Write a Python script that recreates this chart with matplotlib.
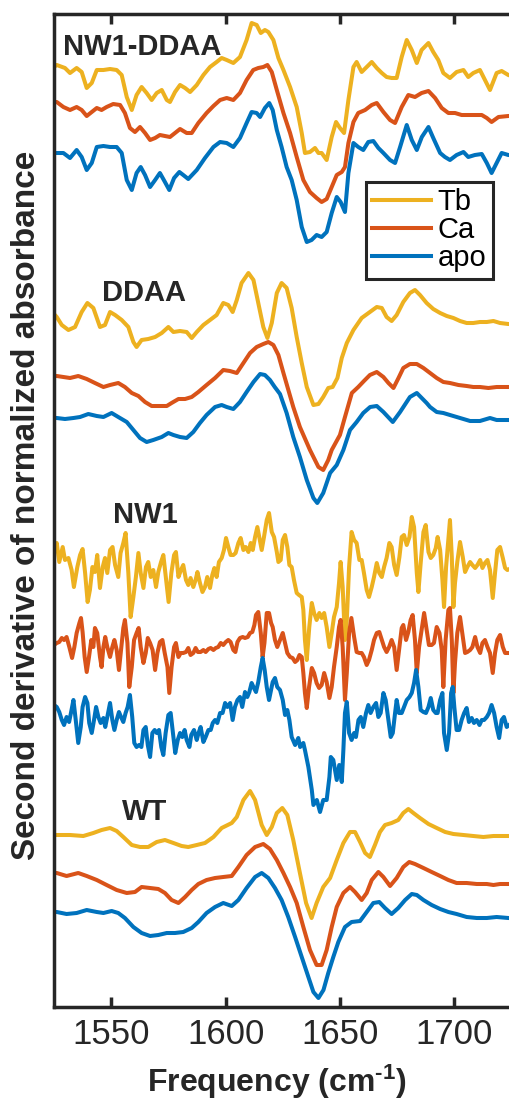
import numpy as np
import matplotlib
matplotlib.use("Agg")
import matplotlib.pyplot as plt
from matplotlib import font_manager

# second-derivative spectra, (frequency cm-1, value in arbitrary offset units)
nw1ddaa_tb = [(1525.0, 94.0), (1526.2, 94.2), (1529.8, 93.9), (1532.0, 93.4), (1534.9, 93.9), (1537.1, 93.5), (1539.3, 91.9), (1541.5, 92.4), (1543.7, 93.7), (1546.6, 93.7), (1549.5, 93.8), (1552.4, 93.7), (1554.6, 93.2), (1556.8, 91.0), (1559.0, 89.7), (1561.1, 91.2), (1563.3, 92.0), (1565.5, 91.4), (1567.7, 90.7), (1569.9, 91.4), (1572.1, 91.7), (1574.3, 90.7), (1575.7, 90.5), (1577.9, 91.5), (1580.1, 92.2), (1582.3, 91.9), (1584.5, 91.5), (1587.4, 92.2), (1590.3, 93.2), (1593.2, 94.0), (1596.1, 94.5), (1598.3, 94.9), (1600.5, 94.7), (1603.4, 94.4), (1606.3, 95.0), (1609.2, 96.7), (1611.4, 98.4), (1613.6, 98.2), (1615.4, 97.4), (1617.2, 97.7), (1618.7, 97.5), (1620.9, 96.7), (1623.1, 94.9), (1625.3, 93.7), (1628.2, 92.0), (1631.1, 90.0), (1633.3, 87.4), (1634.7, 85.4), (1636.9, 85.5), (1639.1, 85.9), (1640.6, 85.4), (1642.0, 85.4), (1644.2, 84.7), (1646.4, 87.0), (1648.3, 88.5), (1650.0, 87.9), (1651.8, 87.4), (1653.7, 90.7), (1655.9, 94.0), (1657.3, 94.5), (1659.5, 93.5), (1661.7, 94.0), (1663.9, 94.5), (1666.1, 93.9), (1668.3, 93.4), (1670.4, 93.0), (1672.6, 92.9), (1674.8, 92.9), (1677.0, 95.0), (1679.2, 96.7), (1681.4, 95.7), (1683.6, 94.4), (1685.7, 95.7), (1688.7, 96.4), (1690.8, 95.5), (1693.0, 94.7), (1695.2, 93.4), (1698.1, 92.9), (1701.0, 93.5), (1704.0, 93.7), (1706.1, 93.0), (1708.3, 93.4), (1711.2, 93.7), (1713.4, 92.7), (1715.6, 91.7), (1718.5, 93.4), (1720.7, 93.6), (1723.6, 93.2), (1725.0, 93.1)]
nw1ddaa_ca = [(1525.0, 90.5), (1526.2, 90.5), (1529.1, 90.0), (1532.0, 89.7), (1534.9, 90.0), (1537.1, 89.7), (1539.3, 89.1), (1541.5, 89.5), (1543.7, 89.9), (1545.8, 89.7), (1548.0, 90.0), (1550.9, 90.3), (1553.9, 90.2), (1556.0, 89.4), (1558.2, 87.9), (1560.4, 87.5), (1562.6, 88.0), (1564.8, 87.4), (1567.0, 86.7), (1569.2, 86.9), (1571.3, 87.2), (1573.5, 87.1), (1575.7, 87.0), (1577.9, 87.4), (1580.1, 87.8), (1583.0, 87.4), (1585.2, 87.4), (1588.1, 88.4), (1591.7, 89.4), (1594.7, 90.1), (1597.6, 90.7), (1600.5, 90.9), (1603.4, 90.7), (1606.3, 91.4), (1609.2, 92.7), (1612.1, 93.7), (1614.3, 93.9), (1616.5, 94.0), (1618.3, 94.2), (1620.2, 93.5), (1622.4, 91.7), (1625.3, 89.4), (1628.2, 87.4), (1631.1, 85.0), (1634.0, 82.7), (1636.9, 81.5), (1639.8, 80.9), (1642.0, 80.5), (1644.2, 80.8), (1646.4, 82.0), (1648.6, 83.2), (1650.8, 83.5), (1652.2, 84.0), (1653.7, 86.4), (1655.9, 88.5), (1658.0, 89.4), (1661.0, 89.7), (1663.9, 90.2), (1666.1, 90.4), (1669.0, 89.5), (1671.9, 88.7), (1674.1, 88.4), (1677.0, 90.0), (1679.9, 91.2), (1682.8, 91.0), (1685.7, 91.4), (1688.7, 91.6), (1691.6, 90.9), (1694.5, 89.9), (1697.4, 89.4), (1700.3, 89.4), (1703.2, 89.2), (1706.1, 89.2), (1709.0, 89.2), (1712.0, 89.2), (1714.2, 88.9), (1716.3, 88.5), (1719.3, 89.0), (1723.6, 89.1), (1725.0, 89.1)]
nw1ddaa_apo = [(1525.0, 85.4), (1526.2, 85.4), (1529.1, 85.4), (1532.0, 84.9), (1534.9, 85.7), (1537.1, 85.0), (1539.3, 83.7), (1541.5, 84.4), (1543.7, 86.0), (1546.6, 86.1), (1549.5, 86.0), (1552.4, 86.0), (1554.6, 85.4), (1556.8, 82.7), (1559.0, 81.7), (1561.1, 83.4), (1562.9, 84.0), (1564.8, 83.2), (1567.0, 82.0), (1569.2, 82.7), (1571.3, 83.4), (1573.5, 82.5), (1575.4, 81.7), (1577.5, 82.9), (1579.8, 83.5), (1581.5, 83.2), (1583.7, 82.8), (1587.4, 83.7), (1591.0, 84.9), (1594.7, 86.0), (1597.6, 86.5), (1600.5, 86.4), (1603.4, 86.0), (1606.3, 86.9), (1609.2, 88.4), (1611.4, 89.5), (1613.6, 89.4), (1615.1, 89.0), (1617.2, 89.9), (1619.1, 90.4), (1620.6, 89.7), (1622.4, 87.7), (1624.5, 86.0), (1626.7, 84.0), (1628.9, 82.7), (1631.1, 80.7), (1633.3, 78.0), (1635.5, 76.5), (1637.6, 76.7), (1639.8, 77.2), (1642.0, 77.0), (1644.2, 77.5), (1646.4, 79.4), (1648.6, 81.0), (1650.3, 80.5), (1652.2, 79.5), (1653.7, 83.4), (1655.9, 86.4), (1658.0, 86.0), (1660.2, 85.7), (1662.4, 86.5), (1664.6, 86.6), (1666.8, 85.9), (1669.0, 85.4), (1671.9, 84.7), (1674.1, 84.4), (1676.3, 86.0), (1679.2, 88.2), (1681.4, 86.7), (1683.6, 85.7), (1685.8, 87.0), (1688.7, 88.0), (1690.8, 86.9), (1693.8, 85.4), (1695.9, 85.0), (1698.1, 84.7), (1701.0, 85.2), (1704.0, 85.5), (1706.1, 85.0), (1709.0, 85.2), (1712.0, 85.3), (1714.2, 84.4), (1716.3, 83.4), (1718.5, 84.4), (1720.7, 85.4), (1723.6, 85.2), (1725.0, 85.2)]

ddaa_tb = [(1525.0, 69.3), (1526.2, 69.0), (1528.4, 68.2), (1531.3, 67.7), (1534.2, 68.0), (1537.1, 69.5), (1539.6, 70.4), (1542.2, 69.9), (1545.1, 68.0), (1547.3, 68.2), (1549.5, 69.5), (1551.7, 69.2), (1554.6, 68.7), (1557.5, 68.0), (1559.7, 66.5), (1561.1, 66.0), (1563.3, 66.7), (1566.2, 66.8), (1569.2, 67.0), (1572.1, 67.4), (1575.0, 68.0), (1577.2, 67.5), (1580.1, 67.6), (1583.0, 67.5), (1585.2, 66.9), (1587.4, 67.5), (1590.3, 68.2), (1593.2, 68.7), (1596.1, 69.2), (1599.0, 70.4), (1601.2, 70.2), (1603.1, 69.5), (1604.9, 70.7), (1607.0, 72.4), (1610.0, 73.4), (1612.2, 72.7), (1614.3, 70.4), (1616.5, 68.0), (1618.3, 66.9), (1620.2, 68.4), (1622.4, 71.4), (1624.5, 72.4), (1626.7, 71.9), (1628.9, 69.9), (1631.1, 67.0), (1633.3, 64.4), (1635.5, 62.0), (1638.4, 60.2), (1640.6, 60.3), (1642.7, 61.0), (1644.9, 61.9), (1646.8, 62.0), (1648.9, 62.9), (1650.8, 64.9), (1653.0, 66.4), (1655.9, 67.7), (1659.5, 68.9), (1663.1, 69.5), (1666.1, 70.0), (1668.3, 69.9), (1670.4, 69.0), (1672.6, 68.6), (1674.8, 69.2), (1677.7, 70.5), (1680.6, 71.4), (1682.8, 71.7), (1685.0, 71.2), (1687.9, 70.4), (1690.8, 69.8), (1693.8, 69.4), (1696.7, 69.1), (1699.6, 68.9), (1702.5, 68.6), (1705.4, 68.4), (1708.3, 68.4), (1711.2, 68.5), (1714.2, 68.5), (1717.1, 68.6), (1720.0, 68.4), (1723.6, 68.3), (1725.0, 68.3)]
ddaa_ca = [(1525.0, 63.1), (1526.2, 63.1), (1529.1, 63.0), (1532.0, 62.9), (1535.6, 63.1), (1539.3, 62.8), (1542.9, 62.4), (1546.6, 62.0), (1549.5, 62.2), (1553.1, 62.4), (1556.0, 62.0), (1559.0, 61.4), (1561.9, 61.1), (1564.8, 60.5), (1567.7, 60.1), (1570.6, 60.1), (1574.3, 60.1), (1576.4, 60.4), (1579.4, 60.8), (1582.3, 60.8), (1585.2, 61.0), (1588.1, 61.5), (1591.7, 62.2), (1595.4, 62.9), (1599.0, 63.7), (1601.9, 63.6), (1604.9, 63.4), (1607.8, 64.4), (1610.7, 65.4), (1613.6, 66.0), (1616.5, 66.3), (1618.7, 66.5), (1620.9, 66.2), (1623.1, 65.2), (1625.3, 63.4), (1629.6, 60.0), (1632.5, 58.0), (1636.9, 55.7), (1640.6, 54.0), (1642.7, 53.7), (1644.9, 54.7), (1646.4, 55.7), (1650.0, 57.2), (1652.2, 59.0), (1655.2, 61.4), (1658.0, 62.0), (1660.5, 62.6), (1663.1, 63.2), (1666.1, 63.5), (1669.0, 63.0), (1671.2, 62.4), (1673.4, 61.9), (1675.6, 62.9), (1677.7, 63.9), (1680.6, 64.3), (1683.6, 64.3), (1686.5, 63.9), (1689.4, 63.4), (1692.3, 62.9), (1695.2, 62.5), (1698.1, 62.4), (1701.8, 62.2), (1705.4, 62.1), (1708.3, 62.0), (1711.2, 62.0), (1714.9, 61.9), (1718.5, 62.0), (1723.6, 62.0), (1725.0, 62.0)]
ddaa_apo = [(1525.0, 58.9), (1526.2, 58.9), (1529.8, 58.8), (1533.5, 58.9), (1536.4, 59.0), (1540.0, 59.3), (1543.7, 59.1), (1546.6, 59.0), (1550.2, 59.4), (1553.1, 59.0), (1556.8, 58.5), (1559.7, 57.7), (1562.6, 56.9), (1565.5, 56.5), (1568.4, 56.7), (1572.1, 57.0), (1575.0, 57.4), (1577.2, 57.2), (1580.1, 57.0), (1583.0, 56.9), (1585.9, 57.5), (1588.8, 58.4), (1591.7, 59.2), (1595.4, 60.0), (1598.3, 60.2), (1600.5, 60.0), (1603.4, 59.8), (1606.3, 60.5), (1609.2, 61.5), (1612.2, 62.5), (1615.1, 63.3), (1617.2, 63.2), (1619.4, 62.7), (1621.5, 62.0), (1623.8, 61.3), (1626.7, 59.4), (1629.6, 57.0), (1632.5, 55.0), (1635.5, 52.7), (1638.4, 50.9), (1640.1, 50.4), (1642.7, 51.4), (1645.7, 53.4), (1648.6, 54.2), (1651.5, 55.7), (1654.4, 57.7), (1657.3, 58.5), (1660.2, 59.4), (1663.2, 60.0), (1666.1, 60.1), (1669.0, 59.5), (1673.1, 58.5), (1676.3, 59.5), (1680.6, 61.0), (1683.6, 61.4), (1687.9, 60.4), (1689.4, 60.0), (1692.3, 59.5), (1695.2, 59.4), (1698.1, 59.2), (1702.5, 58.9), (1706.9, 58.6), (1711.2, 58.6), (1715.6, 58.9), (1718.5, 58.7), (1723.6, 58.7), (1725.0, 58.7)]

nw1_tb = [(1525.0, 45.5), (1526.2, 46.4), (1527.3, 44.5), (1528.8, 46.0), (1529.8, 44.7), (1531.3, 44.9), (1532.7, 43.7), (1533.7, 42.0), (1535.2, 44.0), (1536.4, 45.2), (1537.5, 45.8), (1538.6, 43.4), (1539.7, 40.5), (1540.7, 41.7), (1541.8, 44.0), (1542.9, 43.5), (1543.9, 45.2), (1545.1, 41.9), (1546.3, 44.0), (1547.3, 44.9), (1548.3, 43.4), (1549.5, 45.7), (1550.6, 46.0), (1551.7, 44.2), (1553.1, 43.0), (1554.1, 45.4), (1555.3, 46.4), (1556.3, 47.4), (1557.5, 43.4), (1558.5, 39.0), (1559.7, 41.0), (1560.8, 43.0), (1561.9, 45.4), (1562.9, 43.4), (1564.1, 41.9), (1565.2, 44.0), (1566.2, 44.5), (1567.3, 43.0), (1568.4, 43.7), (1569.6, 42.0), (1570.6, 43.5), (1571.8, 44.5), (1572.8, 45.2), (1574.0, 42.7), (1575.1, 40.5), (1576.3, 43.4), (1577.5, 45.2), (1578.3, 45.5), (1579.4, 43.0), (1580.5, 43.7), (1581.5, 44.2), (1582.7, 42.7), (1583.7, 42.2), (1584.7, 42.9), (1585.9, 42.0), (1586.9, 42.7), (1587.7, 43.5), (1588.8, 42.4), (1589.9, 41.5), (1591.0, 42.0), (1592.0, 43.0), (1593.2, 41.9), (1594.2, 43.2), (1595.1, 43.9), (1596.1, 43.0), (1597.1, 44.5), (1598.3, 44.9), (1599.3, 45.7), (1600.2, 46.9), (1601.2, 46.0), (1602.2, 45.2), (1603.4, 45.2), (1604.4, 45.4), (1605.6, 46.4), (1606.6, 46.9), (1607.8, 45.7), (1608.8, 46.0), (1610.0, 45.5), (1611.0, 46.4), (1611.9, 45.7), (1612.9, 47.0), (1613.9, 48.0), (1614.8, 46.9), (1615.8, 45.7), (1616.8, 47.0), (1618.0, 48.7), (1619.0, 49.4), (1620.2, 47.5), (1621.2, 47.0), (1622.4, 45.5), (1623.1, 44.5), (1624.1, 44.7), (1625.0, 46.7), (1626.0, 47.2), (1627.0, 46.0), (1627.9, 44.2), (1628.9, 44.0), (1629.9, 42.7), (1631.1, 41.4), (1632.1, 41.2), (1633.3, 41.0), (1634.0, 39.7), (1634.7, 36.7), (1635.5, 34.7), (1636.6, 38.0), (1637.7, 40.4), (1638.7, 39.4), (1639.8, 38.7), (1641.0, 39.4), (1642.0, 38.9), (1643.1, 39.4), (1644.2, 38.0), (1645.4, 36.0), (1646.4, 37.4), (1647.4, 39.0), (1648.6, 40.0), (1649.6, 42.4), (1650.3, 44.5), (1651.2, 42.0), (1652.2, 36.7), (1653.0, 38.7), (1654.0, 44.0), (1655.1, 47.5), (1656.2, 46.7), (1657.3, 46.4), (1658.5, 44.7), (1659.5, 44.7), (1660.5, 43.4), (1661.7, 41.7), (1662.7, 41.0), (1663.9, 42.0), (1664.9, 43.0), (1666.1, 44.4), (1667.2, 43.4), (1668.3, 43.0), (1669.3, 44.0), (1670.4, 44.9), (1671.6, 46.4), (1672.6, 46.0), (1673.7, 44.2), (1674.8, 43.2), (1676.0, 45.0), (1677.0, 47.0), (1678.0, 47.2), (1679.2, 46.2), (1680.4, 47.0), (1681.4, 49.0), (1682.4, 48.0), (1683.6, 43.4), (1684.3, 41.5), (1685.3, 44.4), (1686.5, 47.5), (1687.5, 48.2), (1688.7, 45.5), (1689.7, 44.9), (1690.8, 45.2), (1691.9, 45.9), (1692.7, 47.0), (1693.8, 45.7), (1694.8, 42.7), (1695.5, 40.0), (1696.4, 44.0), (1697.4, 46.7), (1698.1, 48.7), (1698.9, 45.0), (1699.6, 40.0), (1700.3, 42.4), (1701.3, 44.5), (1702.5, 46.5), (1703.7, 45.0), (1704.7, 43.5), (1705.7, 44.0), (1706.9, 44.5), (1707.9, 44.2), (1709.1, 43.9), (1710.1, 44.2), (1711.3, 44.7), (1712.3, 43.9), (1713.4, 44.4), (1714.5, 44.7), (1715.6, 43.7), (1716.8, 40.9), (1717.8, 43.4), (1718.8, 45.7), (1720.0, 46.0), (1721.2, 44.9), (1722.2, 43.9), (1723.2, 43.7), (1725.0, 43.9)]
nw1_ca = [(1525.0, 36.2), (1526.2, 36.4), (1527.3, 36.5), (1528.4, 36.9), (1529.4, 36.7), (1530.5, 37.0), (1531.7, 36.0), (1532.9, 34.9), (1533.9, 36.0), (1534.9, 37.4), (1536.1, 38.4), (1536.8, 38.9), (1537.5, 37.5), (1538.4, 35.0), (1539.3, 33.5), (1540.3, 35.0), (1541.3, 36.7), (1542.2, 36.0), (1542.9, 37.9), (1543.9, 37.4), (1545.1, 35.0), (1545.8, 34.0), (1546.6, 36.0), (1547.4, 37.0), (1548.3, 36.0), (1549.5, 35.0), (1550.5, 36.0), (1551.4, 36.7), (1552.4, 35.7), (1553.4, 33.7), (1554.3, 35.7), (1555.3, 37.9), (1556.0, 38.7), (1557.1, 36.4), (1557.9, 32.0), (1559.0, 34.0), (1560.0, 36.7), (1561.1, 37.4), (1562.0, 37.9), (1562.9, 36.0), (1564.1, 34.4), (1565.1, 35.4), (1566.0, 36.9), (1567.0, 36.4), (1568.1, 35.7), (1569.2, 33.7), (1570.2, 35.4), (1571.3, 36.5), (1572.4, 36.7), (1573.4, 35.4), (1574.6, 34.0), (1575.4, 31.4), (1576.4, 34.0), (1577.5, 36.0), (1578.3, 36.4), (1579.4, 35.0), (1580.4, 35.4), (1581.5, 35.4), (1582.7, 35.5), (1583.7, 35.9), (1584.7, 35.2), (1585.9, 35.4), (1586.9, 35.9), (1587.9, 35.5), (1589.1, 35.5), (1590.3, 35.7), (1591.3, 35.5), (1592.5, 35.8), (1593.5, 35.9), (1594.7, 35.7), (1595.7, 35.9), (1596.8, 36.0), (1597.9, 36.4), (1599.0, 36.2), (1600.1, 36.5), (1601.2, 36.7), (1602.2, 36.5), (1603.4, 35.7), (1604.3, 35.5), (1605.2, 36.5), (1606.3, 36.9), (1607.5, 37.0), (1608.5, 36.9), (1609.7, 37.0), (1610.7, 37.4), (1611.7, 37.5), (1612.6, 38.2), (1613.3, 39.2), (1614.3, 39.5), (1615.4, 37.4), (1616.2, 35.0), (1617.0, 36.4), (1618.0, 39.4), (1619.0, 39.4), (1619.9, 38.4), (1620.6, 38.0), (1621.6, 36.7), (1622.6, 36.0), (1623.8, 36.7), (1625.0, 37.4), (1626.0, 36.4), (1627.0, 35.4), (1628.2, 35.0), (1629.3, 34.9), (1630.4, 34.5), (1631.4, 34.7), (1632.3, 35.2), (1633.3, 35.0), (1634.0, 33.4), (1634.7, 31.4), (1635.5, 29.9), (1636.5, 32.0), (1637.7, 33.9), (1638.7, 33.4), (1639.8, 32.4), (1640.9, 31.9), (1642.0, 32.2), (1643.1, 33.4), (1644.2, 32.5), (1645.4, 30.9), (1646.4, 32.0), (1647.4, 34.0), (1648.6, 36.0), (1649.6, 38.0), (1650.3, 38.7), (1651.2, 36.0), (1652.2, 30.7), (1653.0, 33.4), (1654.0, 37.4), (1655.0, 38.9), (1656.2, 37.0), (1657.3, 35.5), (1658.5, 35.4), (1659.5, 35.4), (1660.5, 35.0), (1661.7, 34.2), (1662.7, 34.7), (1663.9, 35.7), (1664.9, 36.7), (1666.1, 37.4), (1667.2, 37.5), (1668.3, 36.7), (1669.3, 36.0), (1670.4, 35.5), (1671.5, 36.0), (1672.6, 36.7), (1673.7, 36.0), (1674.8, 33.7), (1676.0, 36.0), (1677.0, 37.9), (1677.7, 38.2), (1678.9, 36.7), (1679.9, 37.5), (1680.9, 38.7), (1681.8, 39.2), (1682.8, 36.7), (1683.6, 33.4), (1684.6, 36.0), (1685.7, 37.7), (1686.8, 39.4), (1687.9, 37.7), (1688.9, 36.2), (1690.1, 36.2), (1691.1, 36.4), (1692.3, 38.0), (1693.5, 37.4), (1694.5, 35.7), (1695.2, 32.0), (1696.2, 36.7), (1697.4, 39.7), (1698.1, 39.9), (1698.9, 36.7), (1699.6, 31.4), (1700.3, 34.4), (1701.3, 37.4), (1702.5, 39.0), (1703.7, 37.0), (1704.7, 35.4), (1705.7, 35.5), (1706.9, 35.7), (1707.9, 36.0), (1709.1, 37.0), (1710.1, 36.0), (1711.3, 35.4), (1712.3, 36.4), (1713.4, 36.7), (1714.5, 36.0), (1715.6, 35.4), (1716.8, 33.4), (1717.8, 35.4), (1718.8, 36.7), (1720.0, 37.2), (1721.2, 36.0), (1722.2, 35.4), (1725.0, 35.4)]
nw1_apo = [(1525.0, 30.2), (1526.2, 30.0), (1527.3, 29.5), (1528.4, 28.7), (1529.4, 28.2), (1530.5, 29.0), (1531.6, 28.5), (1532.4, 29.4), (1533.5, 30.7), (1534.5, 28.7), (1535.6, 26.4), (1536.7, 28.0), (1537.5, 30.0), (1538.6, 31.0), (1539.6, 30.4), (1540.4, 28.4), (1541.5, 27.4), (1542.5, 28.7), (1543.4, 30.0), (1544.4, 29.0), (1545.4, 28.4), (1546.6, 28.9), (1547.4, 28.0), (1548.3, 29.0), (1549.5, 30.4), (1550.5, 28.7), (1551.4, 27.7), (1552.4, 28.7), (1553.4, 29.5), (1554.3, 29.0), (1555.3, 28.5), (1556.3, 29.4), (1557.2, 30.0), (1558.2, 31.2), (1559.2, 29.0), (1560.1, 26.4), (1561.1, 26.0), (1562.2, 26.2), (1563.2, 26.0), (1564.1, 27.7), (1565.1, 28.0), (1566.0, 26.2), (1567.0, 25.0), (1568.0, 27.4), (1569.0, 27.7), (1569.9, 27.4), (1570.9, 27.7), (1571.9, 26.0), (1572.8, 25.2), (1573.8, 27.4), (1575.0, 29.2), (1576.0, 29.4), (1577.0, 27.4), (1578.0, 25.4), (1579.1, 26.7), (1580.1, 27.4), (1581.1, 27.0), (1582.1, 27.7), (1583.0, 26.7), (1584.2, 26.0), (1585.0, 27.2), (1586.2, 27.7), (1587.4, 26.7), (1588.2, 27.4), (1589.1, 28.0), (1590.3, 26.5), (1591.3, 27.0), (1592.5, 27.7), (1593.5, 27.7), (1594.4, 28.4), (1595.4, 28.7), (1596.4, 28.4), (1597.6, 29.4), (1598.7, 29.4), (1599.8, 30.4), (1600.8, 30.0), (1602.0, 30.4), (1603.1, 28.7), (1604.1, 30.0), (1605.2, 30.7), (1606.3, 31.0), (1607.3, 30.0), (1608.5, 31.5), (1609.5, 31.0), (1610.4, 31.5), (1611.4, 32.4), (1612.4, 31.9), (1613.3, 31.5), (1614.3, 32.5), (1615.4, 34.0), (1616.2, 34.9), (1617.1, 33.7), (1618.0, 32.0), (1619.0, 30.7), (1619.9, 31.7), (1620.6, 32.5), (1621.6, 32.9), (1622.6, 32.0), (1623.8, 31.7), (1625.0, 30.7), (1626.0, 29.2), (1627.0, 29.7), (1627.9, 28.7), (1628.9, 27.0), (1630.4, 26.2), (1631.8, 26.9), (1632.6, 26.0), (1634.0, 26.4), (1634.7, 25.7), (1636.2, 24.0), (1637.7, 21.7), (1638.4, 20.2), (1639.9, 20.7), (1641.3, 19.5), (1642.7, 20.7), (1644.2, 20.7), (1645.4, 23.0), (1646.0, 25.0), (1647.1, 24.7), (1648.6, 22.7), (1649.7, 24.2), (1650.8, 22.5), (1651.5, 25.7), (1652.2, 29.4), (1653.0, 30.5), (1654.0, 27.4), (1655.1, 26.7), (1656.2, 27.4), (1657.0, 27.0), (1658.1, 28.7), (1659.1, 29.0), (1660.2, 28.0), (1661.4, 29.4), (1662.4, 30.2), (1663.4, 29.4), (1664.6, 30.0), (1665.8, 30.4), (1666.8, 29.0), (1667.8, 29.4), (1669.0, 31.4), (1670.0, 30.7), (1671.2, 28.7), (1672.2, 27.0), (1673.1, 27.4), (1674.1, 29.4), (1674.8, 30.7), (1675.8, 29.4), (1677.0, 29.4), (1678.0, 30.0), (1679.2, 30.7), (1680.4, 31.0), (1681.4, 31.4), (1682.4, 32.4), (1683.3, 33.7), (1684.3, 32.0), (1685.3, 29.7), (1686.5, 29.5), (1687.6, 29.4), (1688.7, 30.0), (1689.7, 30.9), (1690.8, 29.7), (1691.9, 29.4), (1692.7, 29.4), (1693.8, 30.7), (1694.8, 31.4), (1695.5, 27.4), (1696.7, 25.7), (1697.7, 27.4), (1698.6, 31.4), (1699.3, 32.0), (1700.0, 30.0), (1701.0, 27.7), (1702.1, 27.7), (1703.2, 28.7), (1704.3, 29.4), (1705.4, 29.9), (1706.4, 28.5), (1707.6, 28.9), (1708.6, 28.4), (1709.8, 28.7), (1711.0, 28.2), (1712.0, 28.7), (1713.0, 28.7), (1714.2, 29.0), (1715.2, 29.4), (1716.3, 30.2), (1717.4, 29.4), (1718.5, 28.0), (1719.6, 26.9), (1720.7, 28.7), (1721.7, 29.0), (1722.9, 28.0), (1725.0, 28.4)]

wt_tb = [(1525.0, 17.2), (1526.2, 17.2), (1532.0, 17.2), (1537.8, 17.1), (1542.2, 17.4), (1545.8, 17.7), (1549.5, 17.9), (1552.4, 17.6), (1555.3, 17.0), (1559.0, 16.2), (1562.6, 16.0), (1566.2, 16.0), (1569.9, 16.5), (1573.5, 16.7), (1577.2, 16.4), (1580.8, 16.1), (1583.7, 16.0), (1587.4, 16.2), (1591.0, 16.4), (1594.7, 17.0), (1598.3, 17.9), (1602.7, 18.4), (1604.9, 19.0), (1607.8, 20.7), (1610.7, 21.6), (1612.9, 20.7), (1615.8, 18.2), (1618.0, 17.2), (1620.2, 18.0), (1622.4, 19.4), (1624.8, 19.9), (1627.0, 19.2), (1629.6, 16.7), (1632.5, 13.4), (1635.2, 10.4), (1637.6, 8.9), (1639.8, 10.4), (1642.7, 12.0), (1645.7, 12.9), (1648.6, 14.7), (1651.5, 16.4), (1654.4, 17.5), (1656.6, 17.5), (1658.8, 16.5), (1661.0, 15.4), (1663.1, 15.0), (1665.3, 16.2), (1667.5, 17.5), (1669.7, 18.2), (1672.6, 18.4), (1675.5, 18.7), (1677.7, 19.4), (1679.9, 19.8), (1682.1, 19.4), (1685.0, 18.9), (1688.7, 18.3), (1692.3, 17.9), (1696.0, 17.5), (1699.6, 17.3), (1704.0, 17.2), (1708.3, 17.1), (1712.7, 17.0), (1717.1, 17.1), (1723.6, 17.1), (1725.0, 17.1)]
wt_ca = [(1525.0, 13.4), (1526.2, 13.4), (1530.5, 13.1), (1535.6, 13.4), (1539.3, 13.1), (1543.7, 12.7), (1548.0, 12.2), (1552.4, 11.7), (1556.8, 11.4), (1560.4, 11.5), (1563.3, 12.0), (1567.0, 11.9), (1570.6, 11.8), (1573.5, 11.4), (1576.4, 10.7), (1579.4, 10.4), (1582.3, 11.0), (1585.2, 11.7), (1588.1, 12.3), (1591.7, 12.7), (1595.4, 12.9), (1599.0, 13.0), (1602.7, 13.1), (1605.6, 14.0), (1609.2, 15.2), (1612.9, 16.0), (1616.5, 16.3), (1619.4, 15.8), (1622.4, 14.7), (1625.3, 13.4), (1628.2, 12.0), (1631.1, 10.4), (1634.0, 8.0), (1636.9, 5.7), (1639.8, 4.2), (1642.0, 4.2), (1644.2, 5.7), (1646.4, 8.0), (1648.6, 10.0), (1651.5, 11.4), (1654.4, 12.0), (1656.6, 11.5), (1659.5, 10.7), (1661.7, 11.4), (1663.9, 12.7), (1666.8, 13.5), (1669.0, 13.0), (1671.9, 12.1), (1674.8, 12.9), (1677.7, 14.0), (1680.3, 14.5), (1682.8, 14.3), (1686.5, 13.9), (1690.1, 13.5), (1693.8, 13.1), (1697.4, 12.7), (1701.0, 12.4), (1705.4, 12.4), (1709.8, 12.3), (1714.2, 12.3), (1717.1, 12.2), (1720.0, 12.3), (1723.6, 12.3), (1725.0, 12.3)]
wt_apo = [(1525.0, 9.5), (1526.2, 9.5), (1530.5, 9.3), (1534.9, 9.4), (1539.3, 9.7), (1543.7, 9.5), (1546.6, 9.4), (1550.2, 9.6), (1553.1, 9.4), (1556.0, 8.9), (1559.7, 8.0), (1563.3, 7.4), (1567.0, 7.1), (1570.6, 7.2), (1574.3, 7.4), (1577.9, 7.4), (1581.5, 7.5), (1585.2, 7.9), (1588.1, 8.5), (1591.7, 9.4), (1595.4, 10.0), (1599.0, 10.4), (1602.7, 10.1), (1605.6, 10.7), (1609.2, 11.9), (1612.9, 13.0), (1615.8, 13.4), (1618.7, 12.9), (1621.6, 11.9), (1624.5, 10.7), (1627.4, 9.0), (1630.4, 7.0), (1633.3, 5.0), (1636.2, 3.0), (1638.4, 1.5), (1640.6, 0.9), (1642.8, 1.7), (1644.9, 3.4), (1647.1, 5.0), (1649.3, 6.5), (1652.2, 8.0), (1655.1, 8.5), (1658.8, 8.6), (1661.7, 9.5), (1664.6, 10.4), (1667.2, 10.5), (1669.7, 9.9), (1672.6, 9.3), (1675.5, 9.9), (1678.5, 10.7), (1681.4, 11.3), (1683.6, 11.2), (1686.5, 10.7), (1690.1, 10.2), (1693.8, 9.8), (1697.4, 9.5), (1701.0, 9.3), (1705.4, 9.0), (1709.8, 8.9), (1714.2, 8.9), (1718.5, 9.0), (1723.6, 8.9), (1725.0, 8.9)]

sample_names = ["NW1-DDAA", "DDAA", "NW1", "WT"]
conditions = ["Tb", "Ca", "apo"]
spectra = [
    [nw1ddaa_tb, nw1ddaa_ca, nw1ddaa_apo],
    [ddaa_tb, ddaa_ca, ddaa_apo],
    [nw1_tb, nw1_ca, nw1_apo],
    [wt_tb, wt_ca, wt_apo],
]
# where each sample name sits (frequency, value)
label_pos = [(1528.9, 96.0), (1546.0, 71.4), (1550.8, 49.2), (1554.7, 19.5)]

colors = ["#EDB120", "#D95319", "#0072BD"]
ink = "#262626"

available = {f.name for f in font_manager.fontManager.ttflist}
plt.rcParams["font.family"] = ["Liberation Sans", "DejaVu Sans"]
plt.rcParams["mathtext.fontset"] = "custom"
plt.rcParams["mathtext.rm"] = "Liberation Sans:bold"
plt.rcParams["mathtext.bf"] = "Liberation Sans:bold"
plt.rcParams["mathtext.default"] = "bf"

fig = plt.figure(figsize=(5.09, 11.01), dpi=100)
ax = fig.add_axes([54 / 509, 94 / 1101, 457.5 / 509, 993 / 1101])

handles = []
for i, group in enumerate(spectra):
    for j, pts in enumerate(group):
        x, y = np.array(pts).T
        line, = ax.plot(x, y, color=colors[j], lw=2.9, solid_joinstyle="round")
        if i == 0:
            handles.append(line)
    fx, fy = label_pos[i]
    ax.text(fx, fy, sample_names[i], fontsize=21, fontweight="bold",
            color=ink, ha="left", va="center")

ax.set_xlim(1525, 1725)
ax.set_ylim(0, 99.3)
ax.set_yticks([])
ax.set_xticks([1550, 1600, 1650, 1700])
ax.tick_params(axis="x", direction="in", top=True, length=7, width=2.5,
               labelsize=25, pad=8, color=ink, labelcolor=ink)
for s in ax.spines.values():
    s.set_linewidth(2.5)
    s.set_color(ink)

leg = ax.legend(handles, conditions, loc="upper right",
                bbox_to_anchor=(0.9596, 0.8308), borderaxespad=0,
                fancybox=False, edgecolor=ink, framealpha=1, fontsize=21,
                handlelength=2.0, labelspacing=0.0, handletextpad=0.25,
                borderpad=0.22)
leg.get_frame().set_linewidth(2.2)

fig.text(0.545, 0.0082, r"Frequency (cm$^{\text{-1}}$)", fontsize=23,
         fontweight="bold", color=ink, ha="center", va="baseline")

if "Liberation Sans Narrow" in available:
    yfam, ysize = "Liberation Sans Narrow", 29
else:
    yfam, ysize = "Liberation Sans", 24
fig.text(0.053, 0.5413, "Second derivative of normalized absorbance",
         family=yfam, fontsize=ysize, fontweight="bold", color=ink,
         rotation=90, ha="center", va="center")

fig.savefig("out.png", dpi=100)
